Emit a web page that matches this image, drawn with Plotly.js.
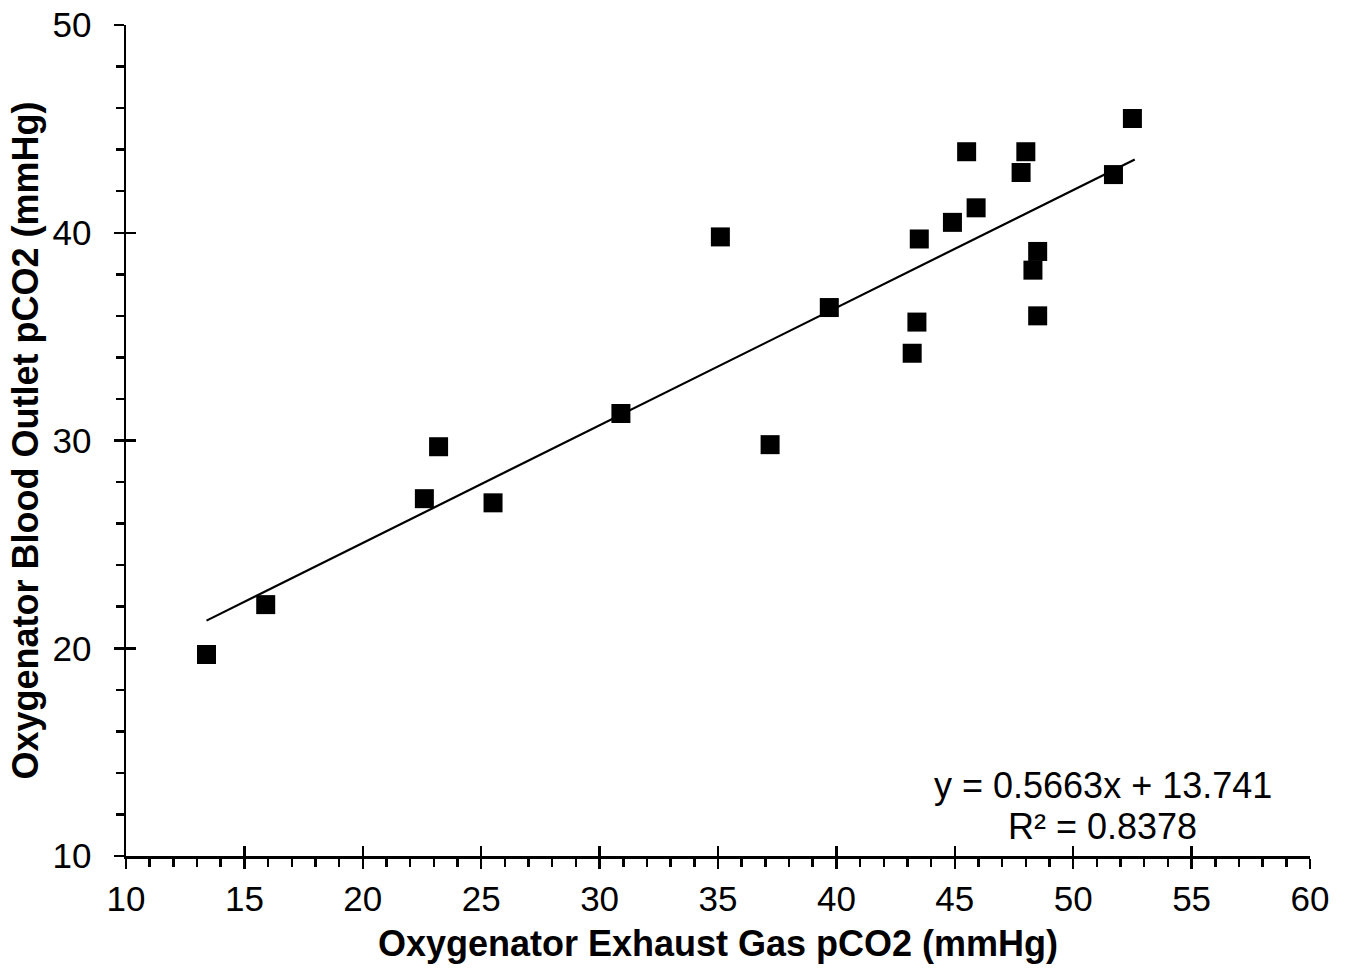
<!DOCTYPE html>
<html>
<head>
<meta charset="utf-8">
<script src="https://cdn.plot.ly/plotly-3.0.1.min.js"></script>
<style>html,body{margin:0;padding:0;background:#fff;}#chart{width:1348px;height:971px;}</style>
</head>
<body>
<div id="chart"></div>
<script>
const exhaustPCO2 = [13.4, 15.9, 22.6, 23.2, 25.5, 30.9, 35.1, 37.2, 39.7, 43.2, 43.4, 43.5, 44.9, 45.5, 45.9, 47.8, 48.0, 48.3, 48.5, 48.5, 51.7, 52.5];
const bloodPCO2   = [19.7, 22.1, 27.2, 29.7, 27.0, 31.3, 39.8, 29.8, 36.4, 34.2, 35.7, 39.7, 40.5, 43.9, 41.2, 42.9, 43.9, 38.2, 39.1, 36.0, 42.8, 45.5];
const trendX = [13.4, 52.6];
const trendY = [21.33, 43.53];
const xTickVals = [10, 15, 20, 25, 30, 35, 40, 45, 50, 55, 60];
const yTickVals = [10, 20, 30, 40, 50];
const equationLines = ["y = 0.5663x + 13.741", "R² = 0.8378"];

const font = "Liberation Sans, Arial, sans-serif";

const traces = [
  {x: trendX, y: trendY, mode: 'lines', line: {color: '#000', width: 2.2}, hoverinfo: 'skip', showlegend: false},
  {x: exhaustPCO2, y: bloodPCO2, mode: 'markers', marker: {symbol: 'square', size: 19, color: '#000'}, showlegend: false},
  {x: [10], y: [10], xaxis: 'x2', yaxis: 'y2', mode: 'markers', marker: {opacity: 0}, hoverinfo: 'skip', showlegend: false}
];

const layout = {
  width: 1348, height: 971,
  margin: {l: 126, r: 38, t: 25, b: 115},
  paper_bgcolor: '#fff', plot_bgcolor: '#fff',
  font: {family: font, color: '#000', size: 35},
  xaxis: {
    range: [10, 60], tickvals: xTickVals, ticks: 'outside', ticklen: 10, tickwidth: 2.5, tickcolor: '#000',
    showline: true, linecolor: '#000', linewidth: 2.5, showgrid: false, zeroline: false,
    tickfont: {size: 35}, ticklabelstandoff: 0,
    minor: {dtick: 1, ticks: 'outside', ticklen: 8, tickwidth: 2.5, tickcolor: '#000', showgrid: false},
    title: {text: '<b>Oxygenator Exhaust Gas pCO2 (mmHg)</b>', font: {size: 36}, standoff: 15}
  },
  yaxis: {
    range: [10, 50], tickvals: yTickVals, ticks: 'outside', ticklen: 10, tickwidth: 2.5, tickcolor: '#000',
    showline: true, linecolor: '#000', linewidth: 2.5, showgrid: false, zeroline: false,
    tickfont: {size: 35}, ticklabelstandoff: 15,
    minor: {dtick: 2, ticks: 'outside', ticklen: 8, tickwidth: 2.5, tickcolor: '#000', showgrid: false},
    title: {text: '<b>Oxygenator Blood Outlet pCO2 (mmHg)</b>', font: {size: 36}, standoff: 3}
  },
  xaxis2: {
    overlaying: 'x', matches: 'x', range: [10, 60], tickvals: xTickVals, ticks: 'inside', ticklen: 10, tickwidth: 2.5,
    tickcolor: '#000', showticklabels: false, showgrid: false, zeroline: false, showline: false, side: 'bottom'
  },
  yaxis2: {
    overlaying: 'y', matches: 'y', range: [10, 50], tickvals: yTickVals, ticks: 'inside', ticklen: 10, tickwidth: 2.5,
    tickcolor: '#000', showticklabels: false, showgrid: false, zeroline: false, showline: false, side: 'left'
  },
  annotations: [
    {xref: 'paper', yref: 'paper', x: 0.825, y: 0.0854, xanchor: 'center', yanchor: 'middle',
     text: equationLines[0], showarrow: false, font: {size: 36, family: font}},
    {xref: 'paper', yref: 'paper', x: 0.825, y: 0.0361, xanchor: 'center', yanchor: 'middle',
     text: equationLines[1], showarrow: false, font: {size: 36, family: font}}
  ]
};

Plotly.newPlot('chart', traces, layout, {displayModeBar: false, staticPlot: true});
</script>
</body>
</html>
